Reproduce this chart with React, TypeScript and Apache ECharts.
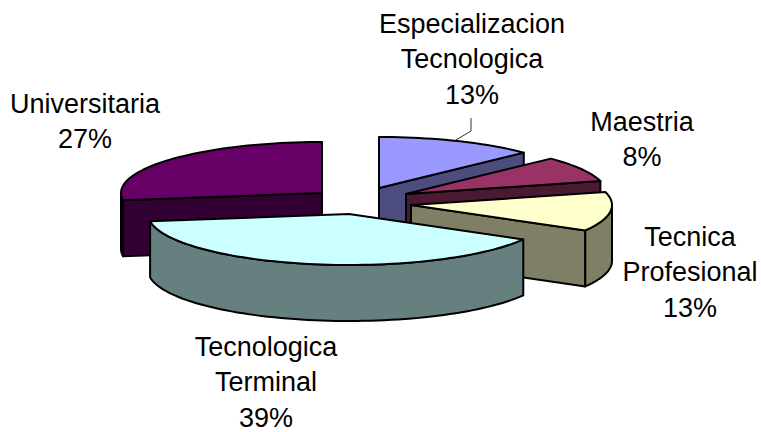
import React, { useEffect, useRef } from "react";
import * as echarts from "echarts";

const categories = ["Especializacion\nTecnologica", "Maestria", "Tecnica\nProfesional", "Tecnologica\nTerminal", "Universitaria"];
const values = [12.8, 8.1, 12.4, 39.4, 27.3];
const percentLabels = ["13%", "8%", "13%", "39%", "27%"];
const topColors = ["#9999FF", "#993366", "#FFFFCC", "#CCFFFF", "#660066"];
const wallColors = ["#4C4C7F", "#4C1933", "#7F7F66", "#667F7F", "#330033"];
const drawOrder = [4, 0, 1, 2, 3];

// Layout of the exploded 3D pie
const apexes = [[379, 188], [406, 194], [411, 205], [349, 214], [322, 193]];
const labelCentres = [[472, 24], [642, 122], [690, 237], [266, 347], [85, 104]];
const RX = 201;
const RY = 51;
const DEPTH = 56;
const LINE_HEIGHT = 35.3;
const FONT = '27px "Liberation Sans", Arial, sans-serif';
const leader = [[471, 118], [471, 131], [456, 140]];

const total = values.reduce((a, b) => a + b, 0);
const starts: number[] = [];
values.reduce((acc, v, i) => {
  starts[i] = acc;
  return acc + v;
}, 0);

const pt = (apex: number[], deg: number, dy = 0) => {
  const r = (deg * Math.PI) / 180;
  return [apex[0] + RX * Math.sin(r), apex[1] - RY * Math.cos(r) + dy];
};
const arc = (apex: number[], a: number, b: number, dy = 0) => {
  const n = Math.max(2, Math.ceil(Math.abs(b - a) / 2));
  const out: number[][] = [];
  for (let i = 0; i <= n; i++) out.push(pt(apex, a + ((b - a) * i) / n, dy));
  return out;
};

const renderItem = (_: any, api: any) => {
  const a = api.value(0);
  const b = api.value(1);
  const idx = api.value(2);
  const apex = apexes[idx];
  const shadow = { fill: wallColors[idx], stroke: "#000", lineWidth: 2, lineJoin: "round" };
  const top = { fill: topColors[idx], stroke: "#000", lineWidth: 2, lineJoin: "round" };
  const poly = (points: number[][], style: any) => ({ type: "polygon", shape: { points }, style });
  const children: any[] = [];
  const below = [apex[0], apex[1] + DEPTH];
  if (a > 180) {
    children.push(poly([apex, pt(apex, a), pt(apex, a, DEPTH), below], shadow));
  }
  if (b < 180) {
    children.push(poly([apex, pt(apex, b), pt(apex, b, DEPTH), below], shadow));
  }
  const from = Math.max(a, 90);
  const to = Math.min(b, 270);
  if (to > from) {
    children.push(poly([...arc(apex, from, to), ...arc(apex, to, from, DEPTH)], shadow));
  }
  children.push(poly([apex, ...arc(apex, a, b)], top));
  return { type: "group", children };
};

const seriesData = drawOrder.map((i) => [
  (starts[i] / total) * 360,
  ((starts[i] + values[i]) / total) * 360,
  i,
]);

const labelGraphics = categories.flatMap((c, i) =>
  [...c.split("\n"), percentLabels[i]].map((line, k) => ({
    type: "text",
    x: labelCentres[i][0],
    y: labelCentres[i][1] + k * LINE_HEIGHT,
    style: { text: line, font: FONT, fill: "#000", align: "center", verticalAlign: "middle" },
  }))
);

export default function App() {
  const ref = useRef<HTMLDivElement>(null);
  useEffect(() => {
    document.body.style.margin = "0";
    const chart = echarts.init(ref.current!, undefined, { renderer: "svg" });
    chart.setOption({
      animation: false,
      backgroundColor: "#fff",
      series: [{ type: "custom", coordinateSystem: "none", renderItem, data: seriesData, silent: true }],
      graphic: [
        ...labelGraphics,
        { type: "polyline", shape: { points: leader }, style: { stroke: "#000", lineWidth: 0.8, fill: "none" } },
      ],
    });
    return () => chart.dispose();
  }, []);
  return <div ref={ref} style={{ width: 761, height: 432 }} />;
}
